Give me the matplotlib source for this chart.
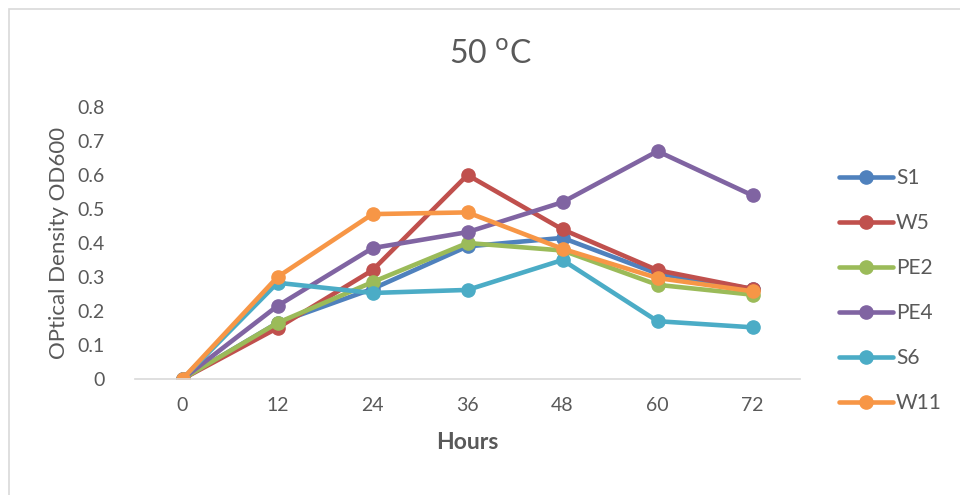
import numpy as np
import matplotlib
matplotlib.use("Agg")
import matplotlib.pyplot as plt
from matplotlib.patches import Rectangle

plt.rcParams['font.family'] = ['Lato', 'DejaVu Sans']

hours = [0, 12, 24, 36, 48, 60, 72]
names = ["S1", "W5", "PE2", "PE4", "S6", "W11"]
S1 = [0, 0.165, 0.265, 0.39, 0.415, 0.31, 0.265]
W5 = [0, 0.15, 0.32, 0.60, 0.44, 0.32, 0.265]
PE2 = [0, 0.165, 0.285, 0.40, 0.378, 0.277, 0.248]
PE4 = [0, 0.215, 0.385, 0.432, 0.52, 0.67, 0.54]
S6 = [0, 0.283, 0.253, 0.262, 0.35, 0.17, 0.152]
W11 = [0, 0.30, 0.485, 0.49, 0.383, 0.297, 0.258]
colors = ['#4F81BD', '#C0504D', '#9BBB59', '#8064A2', '#4BACC6', '#F79646']

txt = '#595959'

fig = plt.figure(figsize=(9.6, 4.95), dpi=100)
# chart frame (only top/left edges visible in the crop)
fig.patches.append(Rectangle((9/960, -0.1), 1.2, 1 - 9/495 + 0.1, transform=fig.transFigure,
                             fill=False, edgecolor='#d9d9d9', linewidth=1.2))

ax = fig.add_axes([135/960, 1 - 379/495, 665/960, 272/495])
for s, c, n in zip([S1, W5, PE2, PE4, S6, W11], colors, names):
    ax.plot(hours, s, '-o', color=c, lw=3.3, ms=9.5, label=n, solid_capstyle='round')

ax.set_xlim(-6, 78)
ax.set_ylim(0, 0.8)
ax.set_xticks(hours)
ax.set_yticks(np.arange(0, 0.81, 0.1))
ax.set_yticklabels(['0'] + ['%.1f' % v for v in np.arange(0.1, 0.81, 0.1)])
for sp in ['top', 'right', 'left']:
    ax.spines[sp].set_visible(False)
ax.spines['bottom'].set_color('#d9d9d9')
ax.spines['bottom'].set_linewidth(1.2)
ax.tick_params(length=0, labelsize=14, colors=txt)
ax.tick_params(axis='y', pad=22)
ax.tick_params(axis='x', pad=13)

ax.set_xlabel("Hours", fontsize=16.5, fontweight='bold', color=txt, labelpad=13)
ax.set_ylabel("OPtical Density OD600", fontsize=16, color=txt, labelpad=6)
fig.text(490/960, 1 - 55/495, "50 $^{\\mathrm{o}}$C", fontsize=23, color=txt, ha='center', va='center')

leg = ax.legend(loc='center left', bbox_to_anchor=(1.03, 0.325), frameon=False, fontsize=15,
                labelcolor=txt, handlelength=2.6, labelspacing=1.2, handletextpad=0.15)

plt.savefig('out.png', dpi=100)
